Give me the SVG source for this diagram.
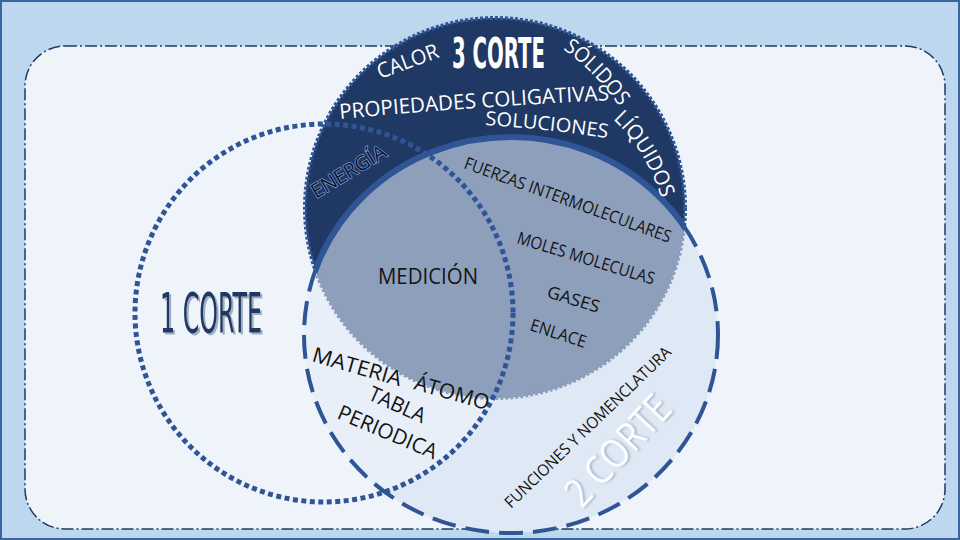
<svg xmlns="http://www.w3.org/2000/svg" width="960" height="540" viewBox="0 0 960 540">
<style>
.t{font-family:'Open Sans','Noto Sans','Liberation Sans',sans-serif;}
.n{font-family:'Liberation Sans Narrow','DejaVu Sans Condensed','Liberation Sans',sans-serif;}
.w{fill:#FFFFFF;}
.k{fill:#141414;}
.dot1{fill:none;stroke:#2F5597;stroke-width:5;stroke-dasharray:5 3.5;}
.dash2{fill:none;stroke:#2F5597;stroke-width:4;stroke-dasharray:24 10;}
.rim3{fill:none;stroke-width:4;stroke-dasharray:3 2;}
</style>
<defs>
<filter id="sh1" x="-10%" y="-10%" width="130%" height="130%"><feDropShadow dx="2" dy="2" stdDeviation="0.6" flood-color="#7F8FA8" flood-opacity="0.7"/></filter>
<filter id="sh2" x="-10%" y="-10%" width="130%" height="130%"><feDropShadow dx="1.5" dy="1.5" stdDeviation="0.8" flood-color="#8FA2BF" flood-opacity="0.8"/></filter>
<clipPath id="clipC1"><circle cx="324" cy="313" r="189"/></clipPath>
<clipPath id="clipC2"><ellipse cx="511" cy="335" rx="207" ry="198"/></clipPath>
<clipPath id="clipC3"><circle cx="495" cy="208" r="190"/></clipPath>
<clipPath id="clipOutC2"><path clip-rule="evenodd" d="M0,0H960V540H0Z M304,335a207,198 0 1,0 414,0a207,198 0 1,0 -414,0Z"/></clipPath>
<clipPath id="clipOutC3"><path clip-rule="evenodd" d="M0,0H960V540H0Z M305,208a190,190 0 1,0 380,0a190,190 0 1,0 -380,0Z"/></clipPath>
<path id="pProp" d="M340,119 Q470,107 612,100"/>
<path id="pSol" d="M485,125 Q550,129 612,139"/>
<path id="pSolid" d="M563,49 Q595,72 619,106"/>
<path id="pLiq" d="M613,119 Q646,150 662,200"/>
</defs>

<rect x="1" y="1" width="958" height="538" fill="#BDD7EE" stroke="#3A64A0" stroke-width="2"/>
<rect x="25" y="46" width="920" height="483" rx="40" ry="40" fill="#EFF4FA" stroke="#203864" stroke-width="1.5" stroke-dasharray="12 3 2 3"/>

<g id="shapes">
<ellipse id="c2fill" cx="511" cy="335" rx="207" ry="198" fill="#DFE9F5"/>
<ellipse cx="511" cy="335" rx="207" ry="198" fill="#E8EFF8" clip-path="url(#clipC1)"/>
<circle id="c3fill" cx="495" cy="208" r="190" fill="#203864"/>
<circle cx="495" cy="208" r="190" fill="#8E9FBC" clip-path="url(#clipC2)"/>
<circle cx="495" cy="208" r="190" class="rim3" stroke="#2F5597" clip-path="url(#clipOutC2)"/>
<circle cx="495" cy="208" r="190" class="rim3" stroke="#8E9FBC" clip-path="url(#clipC2)"/>
</g>

<g id="connectors">
<ellipse cx="511" cy="335" rx="207" ry="198" fill="none" stroke="#2F5597" stroke-width="6" clip-path="url(#clipC3)"/>
<ellipse cx="511" cy="335" rx="207" ry="198" class="dash2" clip-path="url(#clipOutC3)"/>
<circle cx="324" cy="313" r="189" class="dot1"/>
</g>

<g id="corte1">
<text class="n" x="160" y="332" font-size="56" fill="#1F3864" filter="url(#sh1)" textLength="102" lengthAdjust="spacingAndGlyphs">1 CORTE</text>
</g>

<g id="corte3">
<text class="n w" x="452" y="68" font-size="42" font-weight="bold" textLength="93" lengthAdjust="spacingAndGlyphs">3 CORTE</text>
<text class="t w" x="380" y="79" font-size="21" transform="rotate(-20 380 79)" textLength="64" lengthAdjust="spacingAndGlyphs">CALOR</text>
<text class="t w" font-size="21"><textPath href="#pSolid" textLength="81" lengthAdjust="spacingAndGlyphs">SÓLIDOS</textPath></text>
<text class="t w" font-size="21"><textPath href="#pProp" textLength="270" lengthAdjust="spacingAndGlyphs">PROPIEDADES COLIGATIVAS</textPath></text>
<text class="t w" font-size="19.5"><textPath href="#pSol" textLength="123" lengthAdjust="spacingAndGlyphs">SOLUCIONES</textPath></text>
<text class="t w" font-size="21"><textPath href="#pLiq" textLength="94" lengthAdjust="spacingAndGlyphs">LÍQUIDOS</textPath></text>
<text class="t" x="316" y="199" font-size="20" fill="#0B1630" stroke="#7F9DD4" stroke-width="1.4" paint-order="stroke" transform="rotate(-31 316 199)" textLength="84" lengthAdjust="spacingAndGlyphs">ENERGÍA</text>
</g>

<g id="interseccion">
<text class="t k" x="378" y="284" font-size="21" textLength="100" lengthAdjust="spacingAndGlyphs">MEDICIÓN</text>
<text class="t k" x="463" y="168" font-size="17" transform="rotate(20 463 168)" textLength="219" lengthAdjust="spacingAndGlyphs">FUERZAS INTERMOLECULARES</text>
<text class="t k" x="516" y="243" font-size="17" transform="rotate(17 516 243)" textLength="143" lengthAdjust="spacingAndGlyphs">MOLES MOLECULAS</text>
<text class="t k" x="546" y="297" font-size="17" transform="rotate(17 546 297)" textLength="54" lengthAdjust="spacingAndGlyphs">GASES</text>
<text class="t k" x="529" y="330" font-size="17" transform="rotate(18 529 330)" textLength="58" lengthAdjust="spacingAndGlyphs">ENLACE</text>
</g>

<g id="corte2">
<text class="t k" x="311" y="361" font-size="21" transform="rotate(16 311 361)" textLength="92" lengthAdjust="spacingAndGlyphs">MATERIA</text>
<text class="t k" x="413" y="389" font-size="21" transform="rotate(16 413 389)" textLength="77" lengthAdjust="spacingAndGlyphs">ÁTOMO</text>
<text class="t k" x="367" y="399" font-size="21" transform="rotate(24 367 399)" textLength="60" lengthAdjust="spacingAndGlyphs">TABLA</text>
<text class="t k" x="336" y="418" font-size="21" transform="rotate(23 336 418)" textLength="106" lengthAdjust="spacingAndGlyphs">PERIODICA</text>
<text class="t k" x="511" y="509" font-size="16" transform="rotate(-44 511 509)" textLength="224" lengthAdjust="spacingAndGlyphs">FUNCIONES Y NOMENCLATURA</text>
<text class="t w" x="628" y="460" font-size="40" text-anchor="middle" filter="url(#sh2)" transform="rotate(-47 628 460)" textLength="135" lengthAdjust="spacingAndGlyphs">2 CORTE</text>
</g>
</svg>
